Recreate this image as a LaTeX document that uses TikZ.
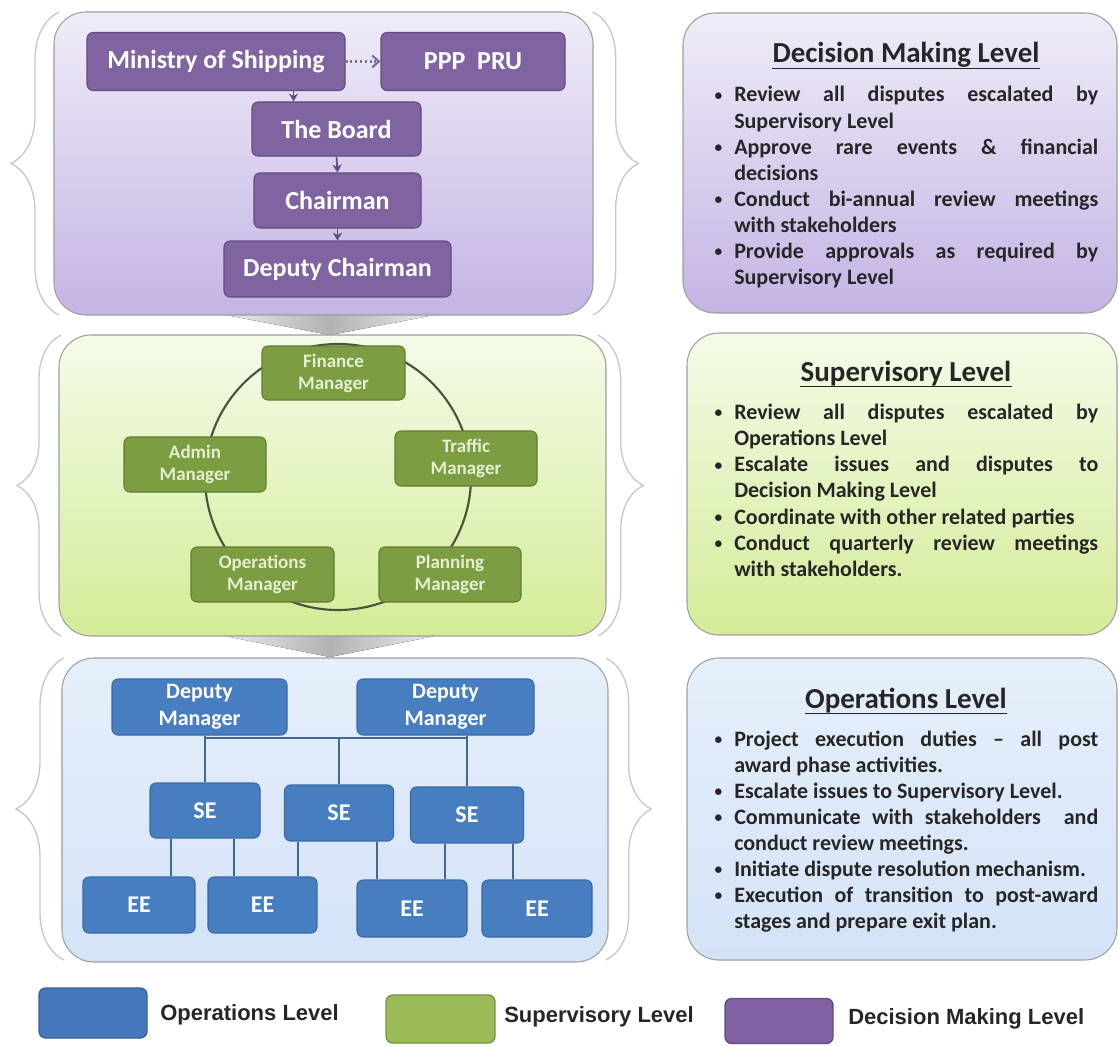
\documentclass[tikz,border=0pt]{standalone}
\usepackage{fontspec}
\setmainfont{Carlito}
\newfontfamily\legfont{Liberation Sans}
\usetikzlibrary{arrows.meta,decorations.pathreplacing,calc}

% colours
\definecolor{pbox}{RGB}{128,100,162}
\definecolor{pboxd}{RGB}{98,76,126}
\definecolor{ptop}{RGB}{240,236,248}
\definecolor{pbot}{RGB}{196,180,228}
\definecolor{gbox}{RGB}{124,157,66}
\definecolor{gboxd}{RGB}{96,126,48}
\definecolor{gtxt}{RGB}{228,240,208}
\definecolor{gtop}{RGB}{244,251,232}
\definecolor{gbot}{RGB}{212,236,152}
\definecolor{bbox}{RGB}{70,126,192}
\definecolor{bboxd}{RGB}{58,106,166}
\definecolor{btop}{RGB}{230,239,251}
\definecolor{bbot}{RGB}{212,227,247}
\definecolor{bline}{RGB}{66,104,150}
\definecolor{circc}{RGB}{72,84,62}
\definecolor{parr}{RGB}{96,78,128}
\definecolor{txtc}{RGB}{38,38,38}
\definecolor{legb}{RGB}{68,120,186}
\definecolor{legbd}{RGB}{52,96,152}
\definecolor{legg}{RGB}{155,187,89}
\definecolor{leggd}{RGB}{118,146,64}
\definecolor{legp}{RGB}{128,98,162}
\definecolor{legpd}{RGB}{98,74,126}

% list helpers: small bullet, justified full line, hanging indent
\newcommand{\blt}{\makebox[15.75pt][l]{\hspace*{1pt}\raisebox{1.2pt}{\scalebox{0.7}{\textbullet}}}}
\newcommand{\jl}[1]{\makebox[273pt][s]{#1}}
\newcommand{\ind}{\hspace*{15.75pt}}

\begin{document}
\begin{tikzpicture}[x=0.75pt,y=-0.75pt,
  sz/.style 2 args={minimum width=#1*0.75pt, minimum height=#2*0.75pt},
  panel/.style={rounded corners=24pt, draw=black!38, line width=0.8pt},
  brc/.style={decorate, decoration={brace, amplitude=#1}, draw=black!22, line width=1pt},
  box/.style={rounded corners=4.5pt, line width=0.8pt, inner sep=1pt, align=center},
  pbx/.style={box, fill=pbox, draw=pboxd, text=white, font=\fontsize{19.5}{23}\selectfont\bfseries},
  gbx/.style={box, fill=gbox, draw=gboxd, text=gtxt, font=\fontsize{14.25}{16.5}\selectfont\bfseries},
  bbx/.style={box, fill=bbox, draw=bboxd, text=white, font=\fontsize{16.5}{20.5}\selectfont\bfseries},
  sbx/.style={bbx, font=\fontsize{18}{21}\selectfont\bfseries},
  parrow/.style={draw=parr, line width=1.3pt, -{Stealth[length=6pt,width=7pt]}},
  conn/.style={draw=bline, line width=1.4pt},
  ttl/.style={anchor=base, inner sep=0pt, text=txtc, font=\fontsize{21.75}{26}\selectfont\bfseries},
  dline/.style={anchor=base west, inner sep=0pt, text=txtc, font=\fontsize{16.5}{19.5}\selectfont\bfseries},
  legbox/.style={rounded corners=5pt, line width=1pt},
  legtxt/.style={anchor=west, inner sep=0pt, text=black!85, font=\fontsize{16.5}{20}\legfont\bfseries}
]
\useasboundingbox (0,0) rectangle (1119,1045);

% silver chevrons linking the levels
\fill[left color=gray!10, right color=gray!10, middle color=gray!60] (210,312) -- (450,312) -- (330,335) -- cycle;
\fill[left color=gray!10, right color=gray!10, middle color=gray!60] (210,633) -- (450,633) -- (330,657) -- cycle;

% level panels
\draw[panel, top color=ptop, bottom color=pbot] (54,12) rectangle (593,315);
\draw[panel, top color=ptop, bottom color=pbot] (683,13) rectangle (1117,313);
\draw[panel, top color=gtop, bottom color=gbot] (59,335) rectangle (606,636);
\draw[panel, top color=gtop, bottom color=gbot] (687,333) rectangle (1117,635);
\draw[panel, top color=btop, bottom color=bbot] (62,658) rectangle (608,962);
\draw[panel, top color=btop, bottom color=bbot] (687,658) rectangle (1117,960);

% braces
\draw[brc=36pt] (59,315) -- (59,12);
\draw[brc=34pt] (593,12) -- (593,315);
\draw[brc=33pt] (61,636) -- (61,335);
\draw[brc=34pt] (598,335) -- (598,636);
\draw[brc=36pt] (64,960) -- (64,658);
\draw[brc=34pt] (606,658) -- (606,960);

% ---- decision making level ----
\node[pbx, sz={258}{58}] (mos) at (216,61.5) {Ministry of Shipping};
\node[pbx, sz={184}{58}] (ppp) at (473,61.5) {PPP~~PRU};
\node[pbx, sz={169}{54}] (board) at (336.5,129) {The Board};
\node[pbx, sz={167}{55}] (chair) at (337.5,200.5) {Chairman};
\node[pbx, sz={227}{56}] (dchair) at (337.5,269) {Deputy Chairman};

\coordinate (mb) at ($(board.north)+(-43,0)$);
\draw[parrow] (mos.south -| mb) -- (mb);
\draw[parrow] (board.south) -- (chair.north);
\draw[parrow] (chair.south) -- (dchair.north);
\draw[draw=parr!80, line width=1.6pt, dotted, -{Straight Barb[length=5pt,width=9pt]}] (mos.east) -- (ppp.west);

% ---- supervisory level ----
\draw[draw=circc, line width=1.6pt] (338,477) circle [radius=99.75pt];
\node[gbx, sz={143}{54}] (fin) at (333.5,373) {Finance\\Manager};
\node[gbx, sz={142}{55}] (traf) at (466,458.5) {Traffic\\Manager};
\node[gbx, sz={142}{55}] (adm) at (195,464.5) {Admin\\Manager};
\node[gbx, sz={143}{55}] (opm) at (262.5,574.5) {Operations\\Manager};
\node[gbx, sz={142}{55}] (plm) at (450,574.5) {Planning\\Manager};

% ---- operations level ----
\node[bbx, sz={175}{56}] (dm1) at (199.5,707) {Deputy\\Manager};
\node[bbx, sz={177}{56}] (dm2) at (445.5,707) {Deputy\\Manager};
\node[sbx, sz={110}{55}] (se1) at (205,810.5) {SE};
\node[sbx, sz={109}{56}] (se2) at (339,813) {SE};
\node[sbx, sz={113}{56}] (se3) at (467,815) {SE};
\node[sbx, sz={112}{56}] (ee1) at (139,905) {EE};
\node[sbx, sz={109}{56}] (ee2) at (262.5,905) {EE};
\node[sbx, sz={110}{57}] (ee3) at (412,908.5) {EE};
\node[sbx, sz={110}{57}] (ee4) at (537,908.5) {EE};

\coordinate (bus) at (0,738);
\draw[conn] (se1.north |- bus) -- (se3.north |- bus);
\draw[conn] (se1.north |- dm1.south) -- (se1.north);
\draw[conn] (se2.north |- bus) -- (se2.north);
\draw[conn] (se3.north |- dm2.south) -- (se3.north);
\coordinate (k1) at ($(se1.south)+(-34,0)$);
\coordinate (k2) at ($(se1.south)+(29,0)$);
\coordinate (k3) at ($(se2.south)+(-41,0)$);
\coordinate (k4) at ($(se2.south)+(38,0)$);
\coordinate (k5) at ($(se3.south)+(-22,0)$);
\coordinate (k6) at ($(se3.south)+(46,0)$);
\draw[conn] (k1) -- (k1 |- ee1.north);
\draw[conn] (k2) -- (k2 |- ee2.north);
\draw[conn] (k3) -- (k3 |- ee2.north);
\draw[conn] (k4) -- (k4 |- ee3.north);
\draw[conn] (k5) -- (k5 |- ee3.north);
\draw[conn] (k6) -- (k6 |- ee4.north);

% ---- level descriptions ----
\node[ttl] (tp) at (906,63) {Decision Making Level};
\draw[txtc, line width=1.1pt] ([yshift=-4pt]tp.base west) -- ([yshift=-4pt]tp.base east);
\node[dline] (p1) at (713,102) {\blt\jl{Review all disputes escalated by}};
\node[dline] (p2) at (713,128) {\ind Supervisory Level};
\node[dline] (p3) at (713,154) {\blt\jl{Approve rare events \& financial}};
\node[dline] (p4) at (713,180) {\ind decisions};
\node[dline] (p5) at (713,206) {\blt\jl{Conduct bi-annual review meetings}};
\node[dline] (p6) at (713,232) {\ind with stakeholders};
\node[dline] (p7) at (713,258) {\blt\jl{Provide approvals as required by}};
\node[dline] (p8) at (713,284) {\ind Supervisory Level};

\node[ttl] (tg) at (906,381) {Supervisory Level};
\draw[txtc, line width=1.1pt] ([yshift=-4pt]tg.base west) -- ([yshift=-4pt]tg.base east);
\node[dline] (g1) at (713,419) {\blt\jl{Review all disputes escalated by}};
\node[dline] (g2) at (713,445.3) {\ind Operations Level};
\node[dline] (g3) at (713,471.6) {\blt\jl{Escalate issues and disputes to}};
\node[dline] (g4) at (713,497.9) {\ind Decision Making Level};
\node[dline] (g5) at (713,524.2) {\blt Coordinate with other related parties};
\node[dline] (g6) at (713,550.5) {\blt\jl{Conduct quarterly review meetings}};
\node[dline] (g7) at (713,576.8) {\ind with stakeholders.};

\node[ttl] (tb) at (906,708) {Operations Level};
\draw[txtc, line width=1.1pt] ([yshift=-4pt]tb.base west) -- ([yshift=-4pt]tb.base east);
\node[dline] (b1) at (713,746) {\blt\jl{Project execution duties -- all post}};
\node[dline] (b2) at (713,772) {\ind award phase activities.};
\node[dline] (b3) at (713,798) {\blt Escalate issues to Supervisory Level.};
\node[dline] (b4) at (713,824) {\blt\jl{Communicate with stakeholders \ and}};
\node[dline] (b5) at (713,850) {\ind conduct review meetings.};
\node[dline] (b6) at (713,876) {\blt Initiate dispute resolution mechanism.};
\node[dline] (b7) at (713,902) {\blt\jl{Execution of transition to post-award}};
\node[dline] (b8) at (713,928) {\ind stages and prepare exit plan.};

% ---- legend ----
\node[legbox, fill=legb, draw=legbd, sz={108}{50}] (lb) at (93,1013) {};
\node[legtxt] (lbt) at (160,1015) {Operations Level};
\node[legbox, fill=legg, draw=leggd, sz={109}{48}] (lg) at (440.5,1019) {};
\node[legtxt] (lgt) at (504,1017) {Supervisory Level};
\node[legbox, fill=legp, draw=legpd, sz={108}{45}] (lp) at (779,1021) {};
\node[legtxt] (lpt) at (848,1019) {Decision Making Level};
\end{tikzpicture}
\end{document}
